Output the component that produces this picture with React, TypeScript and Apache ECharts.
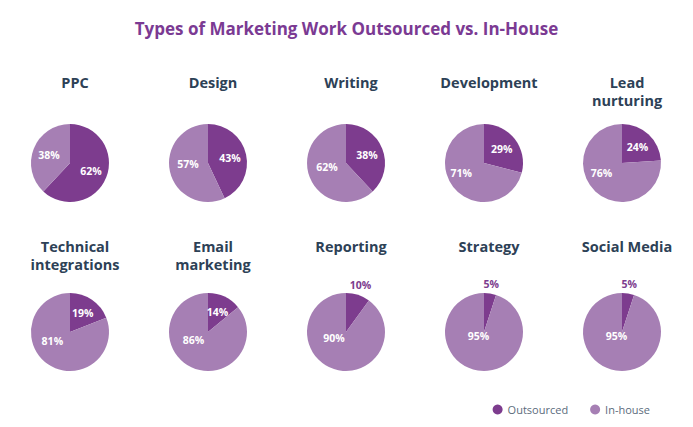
import React, { useEffect, useRef } from "react";
import * as echarts from "echarts";

const chartTitle = "Types of Marketing Work Outsourced vs. In-House";
const categories = [
  "PPC",
  "Design",
  "Writing",
  "Development",
  "Lead\nnurturing",
  "Technical\nintegrations",
  "Email\nmarketing",
  "Reporting",
  "Strategy",
  "Social Media",
];
const outsourced = [62, 43, 38, 29, 24, 19, 14, 10, 5, 5];
const inHouse = [38, 57, 62, 71, 76, 81, 86, 90, 95, 95];
const seriesNames = ["Outsourced", "In-house"];

const OUT_COLOR = "#7D3C8E";
const IN_COLOR = "#A67FB4";
const FONT = "'Open Sans', 'DejaVu Sans', sans-serif";

export default function App() {
  const ref = useRef<HTMLDivElement>(null);
  useEffect(() => {
    if (!ref.current) return;
    const chart = echarts.init(ref.current, undefined, { renderer: "svg" });
    const colX = [70, 208, 346, 484, 622];
    const rowY = [163, 332];
    const titleY = [68, 232];
    const radius = 39;

    const titles: any[] = [
      {
        text: chartTitle,
        left: "center",
        top: 15,
        textStyle: { color: "#7B3A93", fontSize: 17, fontWeight: "bold", fontFamily: FONT },
      },
    ];
    const series: any[] = [];
    categories.forEach((cat, i) => {
      const col = i % 5;
      const row = Math.floor(i / 5);
      titles.push({
        text: cat,
        left: colX[col],
        top: titleY[row],
        textAlign: "center",
        textStyle: {
          color: "#2D4156",
          fontSize: 14.5,
          fontWeight: "bold",
          fontFamily: FONT,
          lineHeight: 18,
        },
      });
      const small = outsourced[i] < 12;
      const big = inHouse[i] > 65;
      series.push({
        type: "pie",
        center: [colX[col], rowY[row]],
        radius: radius,
        startAngle: 90,
        clockwise: true,
        avoidLabelOverlap: false,
        silent: true,
        itemStyle: { borderWidth: 0 },
        label: {
          show: true,
          position: "inside",
          formatter: "{c}%",
          color: "#ffffff",
          fontSize: 10.5,
          fontWeight: "bold",
          fontFamily: FONT,
        },
        labelLine: { show: false, length: 8, length2: 0 },
        labelLayout: (p: any) => {
          if (p.dataIndex === 0 && small) {
            return { dx: -p.labelRect.width / 2 - 5, dy: -2 };
          }
          if (p.dataIndex === 1 && big) {
            return {
              dx: inHouse[i] > 92 ? -2 : -5,
              dy: -(inHouse[i] - 65) * 0.6,
            };
          }
          if (p.dataIndex === 1 && inHouse[i] > 55) {
            return { dx: 2, dy: -4 };
          }
          return {};
        },
        data: [
          {
            name: seriesNames[0],
            value: outsourced[i],
            itemStyle: { color: OUT_COLOR },
            label: small ? { position: "outside", color: OUT_COLOR } : undefined,
          },
          {
            name: seriesNames[1],
            value: inHouse[i],
            itemStyle: { color: IN_COLOR },
          },
        ],
      });
    });

    chart.setOption({
      animation: false,
      backgroundColor: "#ffffff",
      title: titles,
      legend: {
        data: seriesNames,
        right: 38,
        bottom: 7,
        icon: "circle",
        itemWidth: 10,
        itemHeight: 10,
        itemGap: 22,
        textStyle: { color: "#5B6B7C", fontSize: 11, fontFamily: FONT },
      },
      series,
    });
    return () => chart.dispose();
  }, []);
  return (
    <div
      ref={ref}
      style={{ position: "fixed", left: 0, top: 0, width: 693, height: 427 }}
    />
  );
}
